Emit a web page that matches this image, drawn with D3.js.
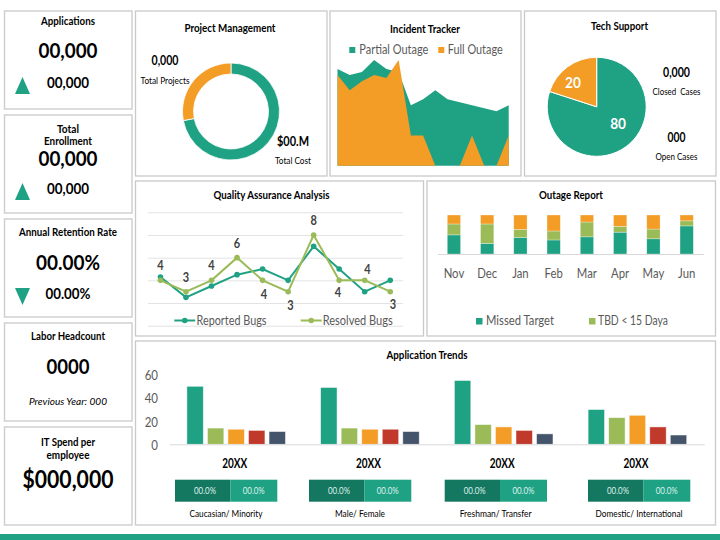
<!DOCTYPE html>
<html>
<head>
<meta charset="utf-8">
<script src="https://cdn.jsdelivr.net/npm/d3@7"></script>
<style>
  html, body { margin: 0; padding: 0; background: #fff; }
  svg { display: block; }
  text { font-family: Lato, "Open Sans", sans-serif; fill: #000; dominant-baseline: central; }
  .axis text { fill: #595959; }
</style>
</head>
<body>
<svg width="720" height="540"></svg>
<script>
const teal = "#1fa184", darkTeal = "#14775f", green = "#9bbb59", orange = "#f39c26",
      red = "#c0392b", navy = "#44546a";

// Project Management donut
const projectShares = [72, 28];

// Incident Tracker
const incidentIdx = d3.range(15);
const partialOutage = [3.2, 3.0, 3.1, 3.5, 3.2, 3.1, 2, 2.2, 2.5, 2.2, 2.1, 2, 1.9, 1.8, 2];
const fullOutage = [3, 2.5, 2.8, 3, 2.9, 3.5, 1, 1, 0, 0, 0, 1, 0, 0, 1];

// Tech Support pie
const techShares = [80, 20];

// Quality Assurance
const qaIdx = d3.range(10);
const reportedBugs = [4.3, 2.5, 3.5, 4.5, 5, 4, 7, 5, 3, 4];
const resolvedBugs = [4, 3, 4, 6, 4, 3, 8, 4, 4, 3];

// Outage Report
const months = ["Nov", "Dec", "Jan", "Feb", "Mar", "Apr", "May", "Jun"];
const missedTarget = [49, 27, 42, 36, 44, 56, 39, 72];
const tbdUnder15 = [28, 50, 21, 23, 38, 15, 25, 13];
const otherOutage = [23, 23, 37, 41, 18, 29, 36, 15];

// Application Trends
const trendYears = ["20XX", "20XX ", "20XX  ", "20XX   "];
const trendTicks = [0, 20, 40, 60];
const trendSeries = ["a", "b", "c", "d", "e"];
const trendValues = [
  [50, 14, 13, 12, 11],
  [49, 14, 13, 13, 11],
  [55, 17, 15, 12, 9],
  [30, 23, 25, 15, 8]
];
const trendStripLabels = ["Caucasian/ Minority", "Male/ Female", "Freshman/ Transfer", "Domestic/ International"];

const svg = d3.select("svg");

// Lato runs wider than the reference face, so w squeezes a text to its measured width
function label(x, y, str, size, w, opts = {}) {
  const t = svg.append("text")
    .attr("x", x).attr("y", y - 0.7)
    .attr("text-anchor", opts.anchor || "middle")
    .attr("font-size", size)
    .attr("font-weight", opts.bold === false ? 400 : 700)
    .attr("font-style", opts.italic ? "italic" : "normal")
    .style("fill", opts.fill || null)
    .text(str);
  if (w) t.attr("textLength", w).attr("lengthAdjust", "spacingAndGlyphs");
  return t;
}

function condense(sel, k) {
  sel.each(function () {
    d3.select(this)
      .attr("textLength", this.getComputedTextLength() * k)
      .attr("lengthAdjust", "spacingAndGlyphs");
  });
}

// panel frames
const panels = [
  [4.5, 11, 127.5, 98], [4.5, 115, 127.5, 98], [4.5, 219, 127.5, 98],
  [4.5, 323, 127.5, 98], [4.5, 427, 127.5, 98],
  [135.5, 11, 191.5, 165], [330, 11, 191, 165], [524.5, 11, 191.5, 165],
  [135.5, 181, 288, 155], [427, 181, 288.5, 155], [135.5, 341, 580, 184]
];
svg.append("g").selectAll("rect").data(panels).join("rect")
  .attr("x", d => d[0]).attr("y", d => d[1])
  .attr("width", d => d[2]).attr("height", d => d[3])
  .attr("fill", "#fff").attr("stroke", "#c9c9c9").attr("stroke-width", 1.3);

svg.append("rect").attr("x", 0).attr("y", 534).attr("width", 720).attr("height", 6).attr("fill", teal);

// KPI column
function triangle(cx, cy, up) {
  svg.append("path")
    .attr("d", d3.line()(up
      ? [[cx - 7.5, cy + 8.5], [cx + 7.5, cy + 8.5], [cx, cy - 8.5]]
      : [[cx - 7.5, cy - 8.5], [cx + 7.5, cy - 8.5], [cx, cy + 8.5]]) + "Z")
    .attr("fill", teal);
}

label(68, 21, "Applications", 11, 54);
label(68, 50, "00,000", 21, 59);
label(68, 82.5, "00,000", 15, 42);
triangle(22.5, 85.5, true);

label(68, 129.5, "Total", 11, 22);
label(68, 141, "Enrollment", 11, 48);
label(68, 158.5, "00,000", 21, 59);
label(68, 189, "00,000", 15, 42);
triangle(22.5, 191.5, true);

label(68, 232.5, "Annual Retention Rate", 11, 98);
label(68, 262.5, "00.00%", 21, 64);
label(68, 294, "00.00%", 15, 45);
triangle(22.5, 296.5, false);

label(68, 336.5, "Labor Headcount", 11, 74);
label(68, 366.5, "0000", 21, 43);
label(68, 402, "Previous Year: 000", 10, 78, { bold: false, italic: true });

label(68, 442.5, "IT Spend per", 11, 54);
label(68, 455.5, "employee", 11, 43);
label(68, 479, "$000,000", 24, 91);

// Project Management
label(230, 28.5, "Project Management", 11, 91);
const donutArc = d3.arc().innerRadius(37.5).outerRadius(48.5);
svg.append("g").attr("transform", "translate(231,111.5)")
  .selectAll("path").data(d3.pie().sort(null)(projectShares)).join("path")
  .attr("d", donutArc)
  .attr("fill", (d, i) => [teal, orange][i])
  .attr("stroke", "#fff").attr("stroke-width", 0.8);
label(165, 61, "0,000", 12.5, 27);
label(165, 81, "Total Projects", 9.5, 49, { bold: false });
label(293, 142, "$00.M", 12.5, 32);
label(293, 161.5, "Total Cost", 9.5, 36, { bold: false });

// Incident Tracker
label(425, 29.5, "Incident Tracker", 11, 70);
const incX = d3.scaleLinear().domain([0, 14]).range([337.5, 508.7]);
const incY = d3.scaleLinear().domain([0, 3.5]).range([165.7, 60]);
const incArea = vals => d3.area()
  .x(i => incX(i)).y0(incY(0)).y1(i => incY(vals[i]))(incidentIdx);
svg.append("path").attr("d", incArea(partialOutage)).attr("fill", teal);
svg.append("path").attr("d", incArea(fullOutage)).attr("fill", orange);
svg.append("rect").attr("x", 349.3).attr("y", 47).attr("width", 6).attr("height", 6).attr("fill", teal);
label(359.3, 50, "Partial Outage", 13, 69, { anchor: "start", bold: false, fill: "#595959" });
svg.append("rect").attr("x", 438.3).attr("y", 47).attr("width", 6).attr("height", 6).attr("fill", orange);
label(447.7, 50, "Full Outage", 13, 55, { anchor: "start", bold: false, fill: "#595959" });

// Tech Support
label(619.5, 26.5, "Tech Support", 11, 57);
const pieArc = d3.arc().innerRadius(0).outerRadius(49.5);
const pieG = svg.append("g").attr("transform", "translate(596.7,106.8)");
pieG.selectAll("path").data(d3.pie().sort(null)(techShares)).join("path")
  .attr("d", pieArc)
  .attr("fill", (d, i) => [teal, orange][i])
  .attr("stroke", "#fff").attr("stroke-width", 1);
const pieLabelArc = d3.arc().innerRadius(30).outerRadius(30);
const pieNudge = [[3.7, -8.1], [-6.1, -0.5]];
const pieLabels = pieG.selectAll("text").data(d3.pie().sort(null)(techShares)).join("text")
  .attr("transform", (d, i) => {
    const [cx, cy] = pieLabelArc.centroid(d);
    return `translate(${cx + pieNudge[i][0]},${cy + pieNudge[i][1]})`;
  })
  .attr("text-anchor", "middle")
  .attr("font-size", 15.5).attr("font-weight", 700)
  .style("fill", "#fff")
  .text(d => d.data);
condense(pieLabels, 0.88);
label(676.5, 73, "0,000", 12.5, 27);
label(676.5, 92, "Closed  Cases", 9.5, 48, { bold: false }).style("white-space", "pre");
label(676.5, 138, "000", 12.5, 18);
label(676.5, 157, "Open Cases", 9.5, 42, { bold: false });

// Quality Assurance Analysis
label(271.5, 195, "Quality Assurance Analysis", 11, 116);
const qaX = d3.scaleBand().domain(qaIdx).range([147.7, 403]);
const qaY = d3.scaleLinear().domain([0, 10]).range([325.7, 212.3]);
const qaCx = i => qaX(i) + qaX.bandwidth() / 2;
const qaGrid = svg.append("g").attr("transform", "translate(147.7,0)")
  .call(d3.axisLeft(qaY).ticks(5).tickSize(-255.3).tickFormat(""));
qaGrid.select(".domain").remove();
qaGrid.selectAll("line").attr("stroke", "#e3e3e3");
const qaLine = vals => d3.line().x(i => qaCx(i)).y(i => qaY(vals[i]))(qaIdx);
[[reportedBugs, teal], [resolvedBugs, green]].forEach(([vals, col]) => {
  svg.append("path").attr("d", qaLine(vals)).attr("fill", "none")
    .attr("stroke", col).attr("stroke-width", 2);
  svg.append("g").selectAll("circle").data(qaIdx).join("circle")
    .attr("cx", i => qaCx(i)).attr("cy", i => qaY(vals[i])).attr("r", 2.8).attr("fill", col);
});
// label nudges relative to the point, only the resolved series is labelled
const qaNudge = [[0, -13.7], [0, -13.7], [0, -13.7], [0, -13.5], [1.3, 15.3], [2.3, 14.3], [0, -13.7], [-1.3, 13], [2.7, -10], [2.7, 13.3]];
const qaLabels = svg.append("g").selectAll("text").data(qaIdx).join("text")
  .attr("x", i => qaCx(i) + qaNudge[i][0])
  .attr("y", i => qaY(resolvedBugs[i]) + qaNudge[i][1] - 0.7)
  .attr("text-anchor", "middle")
  .attr("font-size", 12.5).attr("font-weight", 700)
  .style("fill", "#404040")
  .text(i => resolvedBugs[i]);
condense(qaLabels, 0.88);
[[174.3, 195.2, teal, "Reported Bugs", 196.5], [300.7, 321.7, green, "Resolved Bugs", 322.7]].forEach(([x1, x2, col, str, tx]) => {
  svg.append("line").attr("x1", x1).attr("x2", x2).attr("y1", 320.5).attr("y2", 320.5)
    .attr("stroke", col).attr("stroke-width", 2);
  svg.append("circle").attr("cx", (x1 + x2) / 2).attr("cy", 320.5).attr("r", 2.8).attr("fill", col);
  label(tx, 320.5, str, 13, 70, { anchor: "start", bold: false, fill: "#595959" });
});

// Outage Report
label(571, 195, "Outage Report", 11, 64);
const outX = d3.scaleBand().domain(months).range([437.3, 703.3]).paddingInner(0.6).paddingOuter(0.3);
const outY = d3.scaleLinear().domain([0, 100]).range([254, 215]);
const outRows = months.map((m, i) => ({ month: m, missed: missedTarget[i], tbd: tbdUnder15[i], other: otherOutage[i] }));
const outStack = d3.stack().keys(["missed", "tbd", "other"])(outRows);
svg.append("g").selectAll("g").data(outStack).join("g")
  .attr("fill", (d, i) => [teal, green, orange][i])
  .selectAll("rect").data(d => d).join("rect")
  .attr("x", d => outX(d.data.month))
  .attr("y", d => outY(d[1]))
  .attr("width", outX.bandwidth())
  .attr("height", d => outY(d[0]) - outY(d[1]))
  .attr("stroke", "#fff").attr("stroke-opacity", 0.5).attr("stroke-width", 0.6);
const outAxis = svg.append("g").attr("class", "axis").attr("transform", "translate(0,254)")
  .call(d3.axisBottom(outX).tickSize(0).tickPadding(14));
outAxis.select(".domain").attr("stroke", "#d9d9d9");
outAxis.selectAll("text").attr("font-size", 13.5).attr("font-family", null)
  .style("dominant-baseline", "auto");
condense(outAxis.selectAll("text"), 0.84);
svg.append("rect").attr("x", 476).attr("y", 318).attr("width", 6.5).attr("height", 6.5).attr("fill", teal);
label(486, 321, "Missed Target", 13, 68, { anchor: "start", bold: false, fill: "#595959" });
svg.append("rect").attr("x", 589).attr("y", 318).attr("width", 6.5).attr("height", 6.5).attr("fill", green);
label(598, 321, "TBD < 15 Daya", 13, 70, { anchor: "start", bold: false, fill: "#595959" });

// Application Trends
label(427, 355, "Application Trends", 11, 81);
const trX = d3.scaleBand().domain(trendYears).range([169.3, 704.3]);
const trInner = d3.scaleBand().domain(trendSeries).range([0, trX.bandwidth()]).paddingInner(0.2).paddingOuter(0.855);
const trY = d3.scaleLinear().domain([0, 60]).range([444.3, 374.7]);
const trColor = d3.scaleOrdinal().domain(trendSeries).range([teal, green, orange, red, navy]);
svg.append("g").selectAll("g").data(trendValues).join("g")
  .attr("transform", (d, i) => `translate(${trX(trendYears[i])},0)`)
  .selectAll("rect").data(d => d).join("rect")
  .attr("x", (d, i) => trInner(trendSeries[i]))
  .attr("y", d => trY(d))
  .attr("width", trInner.bandwidth())
  .attr("height", d => trY(0) - trY(d))
  .attr("fill", (d, i) => trColor(trendSeries[i]))
  .attr("stroke", "#fff").attr("stroke-opacity", 0.6).attr("stroke-width", 0.8);
const trAxisY = svg.append("g").attr("class", "axis").attr("transform", "translate(158,0)")
  .call(d3.axisLeft(trY).tickValues(trendTicks).tickSize(0).tickPadding(0));
trAxisY.select(".domain").remove();
trAxisY.selectAll("text").attr("font-size", 13.5).attr("font-family", null).attr("dy", null);
condense(trAxisY.selectAll("text"), 0.85);
const trAxisX = svg.append("g").attr("transform", "translate(0,444.3)")
  .call(d3.axisBottom(trX).tickSize(0).tickFormat(""));
trAxisX.select(".domain").attr("stroke", "#d9d9d9");

// year captions and the split strips under each group
const stripLeft = [175, 309, 444.7, 588];
const stripLabelWidths = [73, 50, 72, 87];
trendYears.forEach((y, i) => {
  label(trX(y) + trX.bandwidth() / 2 - 1.5, 463.3, y.trim(), 14, 25);
  const x0 = stripLeft[i];
  svg.append("rect").attr("x", x0).attr("y", 479.7).attr("width", 55.3).attr("height", 22).attr("fill", darkTeal);
  svg.append("rect").attr("x", x0 + 55.3).attr("y", 479.7).attr("width", 47).attr("height", 22).attr("fill", teal);
  label(x0 + 30, 491, "00.0%", 9.5, 22, { bold: false, fill: "#dff1ec" });
  label(x0 + 78.7, 491, "00.0%", 9.5, 22, { bold: false, fill: "#dff1ec" });
  label(x0 + 51, 513.7, trendStripLabels[i], 9.5, stripLabelWidths[i], { bold: false });
});
</script>
</body>
</html>
